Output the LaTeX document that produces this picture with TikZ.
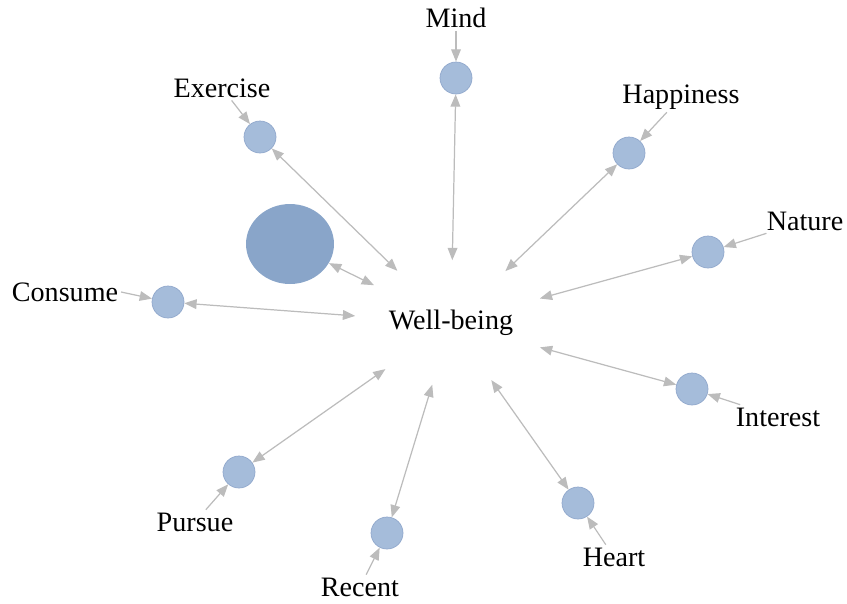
\documentclass[tikz,border=0pt]{standalone}
\usepackage{fontspec}
\setmainfont{Liberation Serif}
\usetikzlibrary{arrows.meta,shapes.geometric}
\definecolor{topicblue}{RGB}{165,188,218}
\definecolor{topicedge}{RGB}{145,168,204}
\definecolor{bigblue}{RGB}{137,165,201}
\definecolor{linkgray}{RGB}{188,188,188}
\begin{document}
\begin{tikzpicture}[x=0.02cm, y=-0.02cm,
  topic/.style={circle, draw=topicedge, line width=0.4pt, fill=topicblue, minimum size=0.64cm, inner sep=0pt},
  word/.style={font=\fontsize{16}{19}\selectfont, inner sep=1.5pt},
  link/.style={draw=linkgray, line width=0.7pt, {Triangle[length=7pt,width=5.5pt]}-{Triangle[length=7pt,width=5.5pt]}},
  tag/.style={draw=linkgray, line width=0.7pt, -{Triangle[length=7pt,width=5.5pt]}}]
  \useasboundingbox (0,0) rectangle (847,603);

  \node[ellipse, minimum width=3.7cm, minimum height=2.5cm, font=\fontsize{16}{19}\selectfont] (wb) at (451,323) {Well-being};

  \node[topic] (mind) at (456,78) {};
  \node[topic] (exercise) at (260,137) {};
  \node[topic] (happiness) at (629,153) {};
  \node[ellipse, fill=bigblue, minimum width=1.76cm, minimum height=1.6cm, inner sep=0pt] (big) at (290,244) {};
  \node[topic] (nature) at (708,252) {};
  \node[topic] (consume) at (168,302) {};
  \node[topic] (interest) at (692,389) {};
  \node[topic] (pursue) at (239,472) {};
  \node[topic] (recent) at (387,533) {};
  \node[topic] (heart) at (578,503) {};

  \node[word] (mindw) at (456,18) {Mind};
  \node[word] (exercisew) at (222,88) {Exercise};
  \node[word] (happinessw) at (681,97) {Happiness};
  \node[word] (naturew) at (805,221) {Nature};
  \node[word] (consumew) at (65,292) {Consume};
  \node[word] (interestw) at (778,417) {Interest};
  \node[word] (pursuew) at (195,522) {Pursue};
  \node[word] (recentw) at (360,587) {Recent};
  \node[word] (heartw) at (614,557) {Heart};

  \draw[link] (mind) -- (wb);
  \draw[link] (exercise) -- (wb);
  \draw[link] (happiness) -- (wb);
  \draw[link] (big) -- (wb);
  \draw[link] (nature) -- (wb);
  \draw[link] (consume) -- (wb);
  \draw[link] (interest) -- (wb);
  \draw[link] (pursue) -- (wb);
  \draw[link] (recent) -- (wb);
  \draw[link] (heart) -- (wb);

  \draw[tag] (mindw) -- (mind);
  \draw[tag] (exercisew) -- (exercise);
  \draw[tag] (happinessw) -- (happiness);
  \draw[tag] (naturew) -- (nature);
  \draw[tag] (consumew.east) -- (consume);
  \draw[tag] (interestw) -- (interest);
  \draw[tag] (pursuew) -- (pursue);
  \draw[tag] (recentw) -- (recent);
  \draw[tag] (heartw) -- (heart);
\end{tikzpicture}
\end{document}
